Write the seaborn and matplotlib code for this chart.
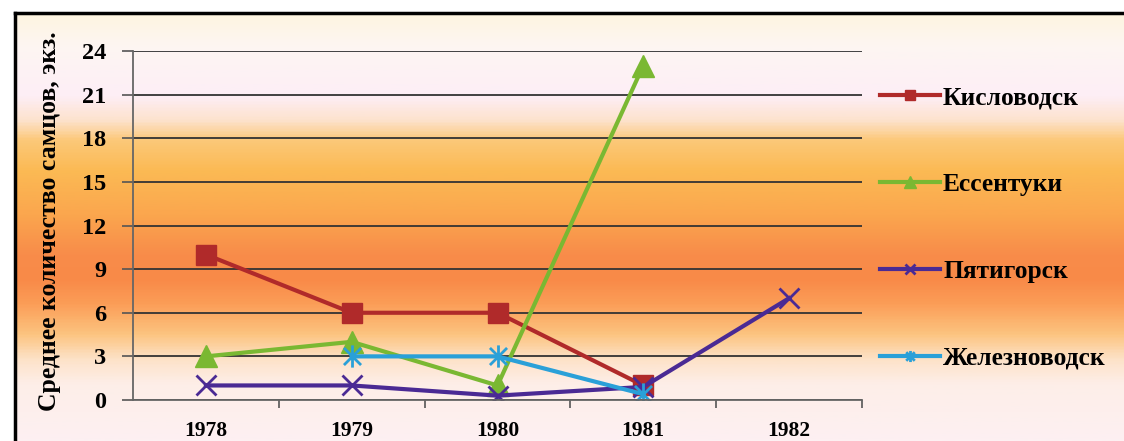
import numpy as np
import pandas as pd
import matplotlib
matplotlib.use("Agg")
import matplotlib.pyplot as plt
from matplotlib.colors import LinearSegmentedColormap
from matplotlib.path import Path
import seaborn as sns

# data
years = [1978, 1979, 1980, 1981, 1982]
kislovodsk = [10, 6, 6, 1, np.nan]
essentuki = [3, 4, 1, 23, np.nan]
pyatigorsk = [1, 1, 0.3, 0.9, 7]
zheleznovodsk = [np.nan, 3, 3, 0.4, np.nan]
series_names = ["Кисловодск", "Ессентуки", "Пятигорск", "Железноводск"]
y_ticks = [0, 3, 6, 9, 12, 15, 18, 21, 24]
y_label = "Среднее количество самцов, экз."

plt.rcParams['font.family'] = ['Liberation Serif', 'DejaVu Serif']
plt.rcParams['font.weight'] = 'bold'

W, H = 1124, 441
fig = plt.figure(figsize=(W / 100, H / 100), dpi=100)
fig.patch.set_facecolor('white')

# background gradient inside the black frame
stops_px = [13, 45, 95, 120, 140, 170, 215, 255, 280, 305, 335, 360, 385, 441]
stops_col = ['#fef4e0', '#fdf6f2', '#fdeef6', '#fde2cc', '#fcc878', '#fbba54',
             '#fba64e', '#f88c4a', '#f98a48', '#fb9e58', '#fcc480', '#fde2c8',
             '#fdeee8', '#fdf0f2']
pos = [(p - 13) / (H - 13) for p in stops_px]
cmap = LinearSegmentedColormap.from_list('bg', list(zip(pos, stops_col)))
bg = fig.add_axes([15 / W, 0, 1 - 15 / W, 1 - 13 / H], zorder=0)
bg.imshow(np.linspace(0, 1, 400).reshape(-1, 1), cmap=cmap, aspect='auto',
          extent=[0, 1, 0, 1])
bg.set_xticks([])
bg.set_yticks([])
for s in ['right', 'bottom']:
    bg.spines[s].set_visible(False)
for s in ['top', 'left']:
    bg.spines[s].set_linewidth(2.5)
    bg.spines[s].set_color('black')

ax = fig.add_axes([133 / W, 1 - 400 / H, (862 - 133) / W, (400 - 51) / H], zorder=1)
ax.patch.set_alpha(0)

# excel-like star: an x with a vertical bar
star = Path([(-1, -1), (1, 1), (-1, 1), (1, -1), (0, -1.3), (0, 1.3)],
            [Path.MOVETO, Path.LINETO, Path.MOVETO, Path.LINETO, Path.MOVETO, Path.LINETO])

styles = [
    dict(color='#b02a2a', marker='s', markersize=15, mfc='#b02a2a', mew=1),
    dict(color='#7ab832', marker='^', markersize=16, mfc='#7ab832', mew=1),
    dict(color='#4a2a94', marker='x', markersize=15, mfc='#4a2a94', mew=2),
    dict(color='#2aa0d8', marker=star, markersize=16, mfc='none', mew=2),
]
for name, vals, st in zip(series_names, [kislovodsk, essentuki, pyatigorsk, zheleznovodsk], styles):
    df = pd.DataFrame({'year': years, 'value': vals}).dropna()
    sns.lineplot(data=df, x='year', y='value', ax=ax, label=name, linewidth=3,
                 color=st['color'], marker=st['marker'], markersize=st['markersize'],
                 markeredgecolor=st['color'], markeredgewidth=st['mew'],
                 markerfacecolor=st['mfc'])

ax.set_xlim(1977.5, 1982.5)
ax.set_ylim(0, 24)
ax.set_yticks(y_ticks)
ax.set_xticks(years)
ax.set_xticklabels([str(y) for y in years])
ax.set_xticks([1978.5, 1979.5, 1980.5, 1981.5, 1982.5], minor=True)
ax.tick_params(axis='x', which='major', length=0, pad=15, labelsize=15.5)
ax.tick_params(axis='x', which='minor', length=6, width=1.2, color='#555555', direction='out')
ax.tick_params(axis='y', length=8, width=1.2, color='#555555', pad=11, labelsize=17.5)
ax.grid(axis='y', color='#333333', linewidth=1.3)
ax.set_axisbelow(True)
for s in ['top', 'right']:
    ax.spines[s].set_visible(False)
for s in ['left', 'bottom']:
    ax.spines[s].set_color('#666666')
    ax.spines[s].set_linewidth(1.3)
ax.set_xlabel('')
ax.set_ylabel(y_label, fontsize=18.5, fontweight='bold')
ax.yaxis.set_label_coords(-72 / (862 - 133), 0.513)

leg = ax.legend(loc='center left', bbox_to_anchor=(880 / W, 1 - 228 / H),
                bbox_transform=fig.transFigure, frameon=False, fontsize=18.4,
                labelspacing=2.5, handlelength=2.35, handletextpad=0.12,
                borderpad=0, borderaxespad=0, markerscale=0.5)

fig.savefig('out.png', dpi=100)
